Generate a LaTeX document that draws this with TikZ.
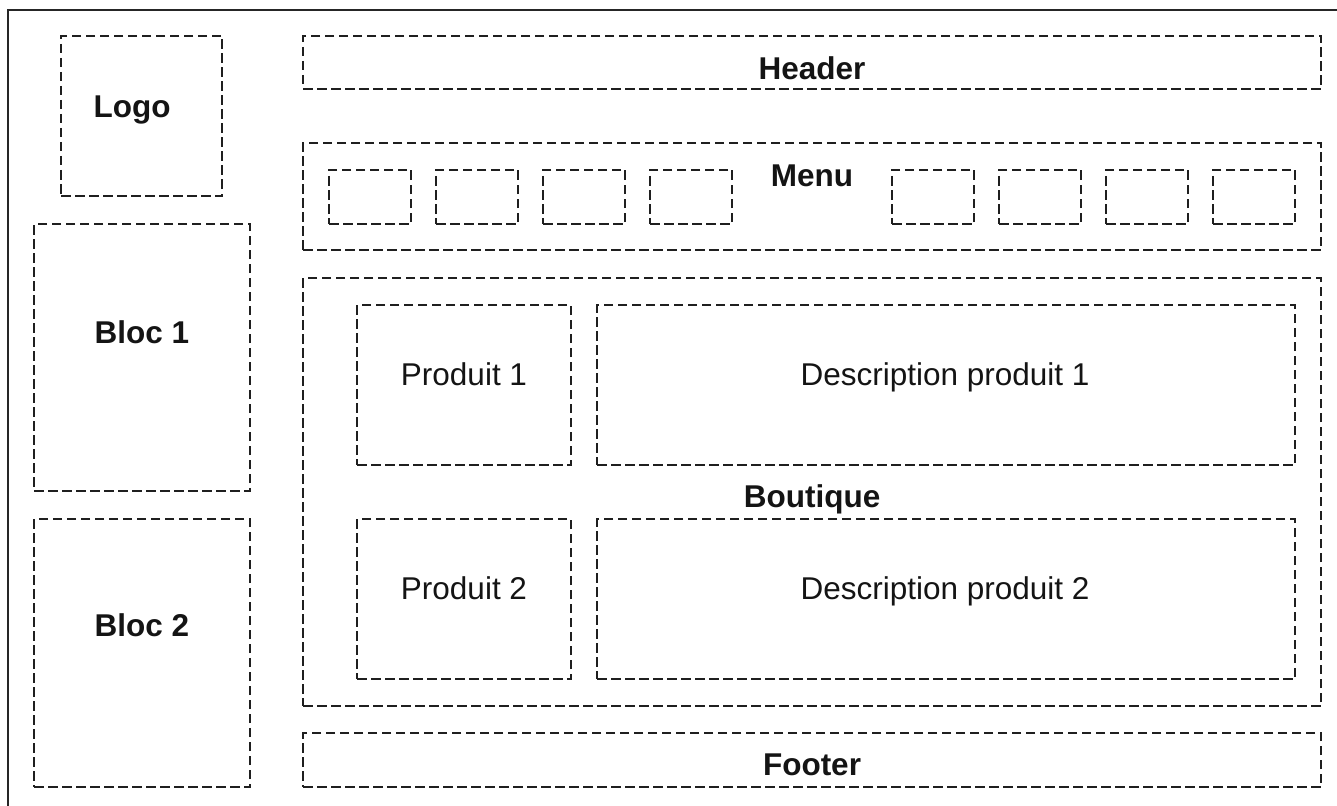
\documentclass[tikz,border=0pt]{standalone}
\usepackage{fontspec}
\setmainfont{Liberation Sans}
\begin{document}
\begin{tikzpicture}[x=1pt,y=-1pt,
  dbox/.style={draw=black!88, line width=2.4pt, dash pattern=on 9.5pt off 4.5pt, rectangle, inner sep=0pt, outer sep=0pt},
  mitem/.style={dbox, minimum width=82pt, minimum height=54pt},
  bl/.style={anchor=base, inner sep=0pt, font=\fontsize{31.5}{36}\selectfont\bfseries, text=black!92},
  rl/.style={anchor=base, inner sep=0pt, font=\fontsize{31.5}{36}\selectfont, text=black!92}]
\useasboundingbox (0,0) rectangle (1337,805);
% outer frame (only top and left visible)
\coordinate (fbl) at (8,806);
\coordinate (ftl) at (8,10);
\coordinate (ftr) at (1338,10);
\draw[line width=2.4pt, black!85, line join=miter] (fbl) -- (ftl) -- (ftr);
% left column
\node[dbox, minimum width=161pt, minimum height=160pt] (logo) at (141.5,116) {};
\node[dbox, minimum width=216pt, minimum height=267pt] (bloc1) at (142,357.5) {};
\node[dbox, minimum width=216pt, minimum height=268pt] (bloc2) at (142,653) {};
% right column
\node[dbox, minimum width=1018pt, minimum height=53pt] (header) at (812,62.5) {};
\node[dbox, minimum width=1018pt, minimum height=107pt] (menu) at (812,196.5) {};
\node[dbox, minimum width=1018pt, minimum height=428pt] (boutique) at (812,492) {};
\node[dbox, minimum width=1018pt, minimum height=54pt] (footer) at (812,760) {};
% menu items
\node[mitem] (m1) at (370,197) {};
\node[mitem] (m2) at (477,197) {};
\node[mitem] (m3) at (584,197) {};
\node[mitem] (m4) at (691,197) {};
\node[mitem] (m5) at (933,197) {};
\node[mitem] (m6) at (1040,197) {};
\node[mitem] (m7) at (1147,197) {};
\node[mitem] (m8) at (1254,197) {};
% products
\node[dbox, minimum width=214pt, minimum height=160pt] (p1) at (464,385) {};
\node[dbox, minimum width=698pt, minimum height=160pt] (d1) at (946,385) {};
\node[dbox, minimum width=214pt, minimum height=160pt] (p2) at (464,599) {};
\node[dbox, minimum width=698pt, minimum height=160pt] (d2) at (946,599) {};
% labels
\node[bl] (tlogo) at (132,118) {Logo};
\node[bl] (tbloc1) at (142,343) {Bloc 1};
\node[bl] (tbloc2) at (142,636) {Bloc 2};
\node[bl] (theader) at (812,80) {Header};
\node[bl] (tmenu) at (812,186) {Menu};
\node[bl] (tboutique) at (812,507) {Boutique};
\node[bl] (tfooter) at (812,775) {Footer};
\node[rl] (tp1) at (464,385) {Produit 1};
\node[rl] (td1) at (945,385) {Description produit 1};
\node[rl] (tp2) at (464,599) {Produit 2};
\node[rl] (td2) at (945,599) {Description produit 2};
\end{tikzpicture}
\end{document}
